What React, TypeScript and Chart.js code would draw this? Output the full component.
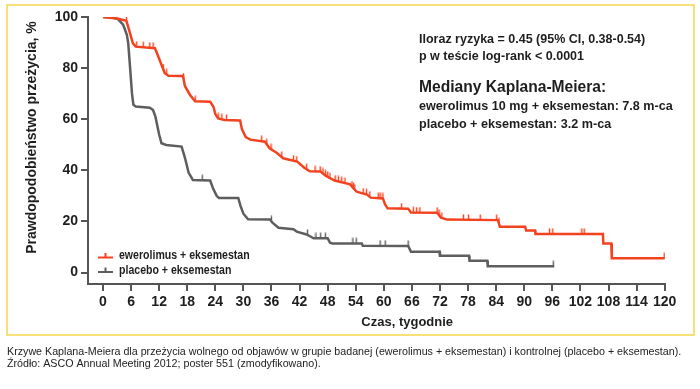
import React, { useEffect, useRef } from 'react';
import { Chart, registerables } from 'chart.js';

Chart.register(...registerables);

// ---------- data ----------
const X_TICKS = [0, 6, 12, 18, 24, 30, 36, 42, 48, 54, 60, 66, 72, 78, 84, 90, 96, 102, 108, 114, 120];
const Y_TICKS = [0, 20, 40, 60, 80, 100];

const EVE_WEEKS = [0, 3, 5, 5.4, 6.4, 7, 11.1, 11.5, 13.2, 14, 17.1, 17.5, 18.6, 19.7, 22.9, 23.6, 24, 24.6, 26, 29.3, 29.7, 30.5, 31.5, 34.6, 35.6, 37, 38.5, 41.5, 43, 44.2, 46.5, 47.5, 48.5, 49.5, 52.8, 53.5, 54.2, 56.4, 57.2, 59.8, 60.3, 60.8, 65.2, 65.8, 71.4, 72.2, 73.5, 84.4, 84.8, 90.2, 90.4, 92.3, 92.4, 106.8, 106.9, 108.6, 108.7, 120];
const EVE_PCT = [100, 99.4, 98.5, 96, 89.7, 88.4, 87.8, 86, 78, 77, 76.9, 73, 69.5, 67, 66.8, 64.9, 62, 60.3, 59.7, 59.5, 56, 53, 52, 51.2, 48.6, 47, 44.7, 43.4, 41, 39.6, 39.5, 38, 36.9, 36, 34.5, 33, 31.6, 30.5, 29.3, 29, 26.5, 25.1, 25, 23.5, 23.4, 21.5, 20.7, 20.5, 17.9, 17.9, 16.4, 16.4, 15.1, 15.1, 11.4, 11.4, 5.6, 5.6];

const PBO_WEEKS = [0, 2, 3.2, 4.3, 5.1, 5.4, 5.8, 6.2, 6.5, 7, 10, 10.7, 11.2, 12, 12.5, 13.5, 16.8, 17.5, 18.3, 18.8, 19.2, 22.9, 23.5, 24.3, 24.8, 28.9, 29.4, 30, 31, 35.7, 36.2, 37.5, 40.7, 41.4, 43.5, 44.6, 45, 48, 48.5, 49, 55.3, 55.5, 65.2, 65.8, 71.9, 72, 78.2, 78.3, 82.1, 82.2, 96.4];
const PBO_PCT = [100, 99.8, 99.2, 97, 93, 89.7, 80, 70, 65.6, 65, 64.5, 63.6, 61, 54, 50.6, 49.9, 49.3, 45, 39, 37.5, 36.2, 36, 33, 30, 29.2, 29.2, 26, 23, 20.8, 20.7, 19.5, 17.5, 16.9, 16, 14.9, 13.8, 13.4, 13.4, 11.7, 11.4, 11.4, 10.5, 10.4, 8.1, 8.1, 6.6, 6.6, 4.6, 4.6, 2.4, 2.4];

const EVE_CENSOR = [0, 5, 7.2, 8.6, 10, 10.7, 12.9, 13.6, 17.2, 19.7, 24.6, 25.4, 26.4, 33.9, 35, 35.9, 38.2, 40.7, 41.4, 43.5, 45.3, 46.4, 47, 47.5, 48, 48.5, 49.6, 50.3, 51, 51.7, 53.2, 53.5, 53.8, 55.6, 56.3, 57, 58.8, 59.2, 59.8, 63.8, 66.3, 67, 67.7, 71.4, 71.8, 72.4, 77, 78.1, 80.6, 84.1, 84.6, 95.4, 96.1, 102.3, 102.8, 119.9];
const PBO_CENSOR = [21.2, 36, 43.7, 45.5, 46.5, 47.5, 53.4, 54.1, 59.2, 60.3, 65.2, 72, 96.2];

const LEGEND_LABELS = ['ewerolimus + eksemestan', 'placebo + eksemestan'];
const STATS_LINES = ['Iloraz ryzyka = 0.45 (95% CI, 0.38-0.54)', 'p w teście log-rank < 0.0001'];
const MEDIAN_TITLE = 'Mediany Kaplana-Meiera:';
const MEDIAN_LINES = ['ewerolimus 10 mg + eksemestan: 7.8 m-ca', 'placebo + eksemestan: 3.2 m-ca'];
const Y_TITLE = 'Prawdopodobieństwo przeżycia, %';
const X_TITLE = 'Czas, tygodnie';
const CAPTION_LINES = [
  'Krzywe Kaplana-Meiera dla przeżycia wolnego od objawów w grupie badanej (ewerolimus + eksemestan) i kontrolnej (placebo + eksemestan).',
  'Źródło: ASCO Annual Meeting 2012; poster 551 (zmodyfikowano).',
];

const RED = '#f4421f';
const GRAY = '#5e5e5e';
const AXIS = '#555555';
const TEXT = '#1e1e1e';
const SANS = 'Arial, "Liberation Sans", sans-serif';

function valueAt(weeks: number[], pct: number[], t: number): number {
  for (let i = weeks.length - 1; i >= 0; i--) {
    if (weeks[i] <= t) {
      if (i === weeks.length - 1) return pct[i];
      const w0 = weeks[i], w1 = weeks[i + 1];
      if (w1 === w0) return pct[i + 1];
      const f = (t - w0) / (w1 - w0);
      return pct[i] + (pct[i + 1] - pct[i]) * f;
    }
  }
  return pct[0];
}

function tickImage(color: string): HTMLCanvasElement {
  const c = document.createElement('canvas');
  c.width = 3;
  c.height = 12;
  const g = c.getContext('2d')!;
  g.strokeStyle = color;
  g.lineWidth = 1.4;
  g.beginPath();
  g.moveTo(1.5, 0.5);
  g.lineTo(1.5, 6);
  g.stroke();
  return c;
}

export default function App() {
  const ref = useRef<HTMLCanvasElement | null>(null);

  useEffect(() => {
    document.body.style.margin = '0';
    const canvas = ref.current!;
    const redTick = tickImage(RED);
    const grayTick = tickImage(GRAY);

    const decor = {
      id: 'decor',
      afterDraw(chart: any) {
        const ctx = chart.ctx as CanvasRenderingContext2D;
        const xs = chart.scales.x;
        ctx.save();
        // frame
        ctx.strokeStyle = '#f6d64c';
        ctx.lineWidth = 1.5;
        ctx.strokeRect(7, 5, 687, 330);

        // y title
        ctx.save();
        ctx.translate(32, 137.5);
        ctx.rotate(-Math.PI / 2);
        ctx.fillStyle = TEXT;
        ctx.font = `bold 14px ${SANS}`;
        ctx.textAlign = 'center';
        ctx.textBaseline = 'middle';
        ctx.fillText(Y_TITLE, 0, 0);
        ctx.restore();

        // x title
        ctx.fillStyle = TEXT;
        ctx.font = `bold 13px ${SANS}`;
        ctx.textAlign = 'center';
        ctx.textBaseline = 'middle';
        ctx.fillText(X_TITLE, xs.getPixelForValue(65), 322);

        // stats text
        ctx.textAlign = 'left';
        ctx.font = `bold 12.5px ${SANS}`;
        ctx.fillText(STATS_LINES[0], 419, 40);
        ctx.fillText(STATS_LINES[1], 419, 57);
        ctx.font = `bold 15.6px ${SANS}`;
        ctx.fillText(MEDIAN_TITLE, 419, 88);
        ctx.font = `bold 12.6px ${SANS}`;
        ctx.fillText(MEDIAN_LINES[0], 419, 107);
        ctx.fillText(MEDIAN_LINES[1], 419, 125);

        // legend
        const colors = [RED, GRAY];
        LEGEND_LABELS.forEach((lab, i) => {
          const y = 256 + i * 14.5;
          ctx.strokeStyle = colors[i];
          ctx.lineWidth = 2;
          ctx.beginPath();
          ctx.moveTo(98, y + 1.5);
          ctx.lineTo(113, y + 1.5);
          ctx.moveTo(105.5, y + 1.5);
          ctx.lineTo(105.5, y - 3);
          ctx.stroke();
          ctx.save();
          ctx.translate(119, y);
          ctx.scale(0.88, 1);
          ctx.fillStyle = TEXT;
          ctx.font = `bold 12px ${SANS}`;
          ctx.fillText(lab, 0, 0);
          ctx.restore();
        });

        // caption
        ctx.fillStyle = '#222';
        ctx.font = `10.7px ${SANS}`;
        ctx.fillText(CAPTION_LINES[0], 7, 352);
        ctx.fillText(CAPTION_LINES[1], 7, 364);
        ctx.restore();
      },
    };

    const chart = new Chart(canvas, {
      type: 'line',
      data: {
        datasets: [
          {
            label: LEGEND_LABELS[0],
            data: EVE_WEEKS.map((w, i) => ({ x: w, y: EVE_PCT[i] })),
            borderColor: RED,
            borderWidth: 2.5,
            pointRadius: 0,
            tension: 0,
          },
          {
            label: LEGEND_LABELS[1],
            data: PBO_WEEKS.map((w, i) => ({ x: w, y: PBO_PCT[i] })),
            borderColor: GRAY,
            borderWidth: 2.5,
            pointRadius: 0,
            tension: 0,
          },
          {
            label: 'censor-eve',
            data: EVE_CENSOR.map((w) => ({ x: w, y: valueAt(EVE_WEEKS, EVE_PCT, w) })),
            showLine: false,
            pointStyle: redTick as any,
            pointRadius: 3,
          },
          {
            label: 'censor-pbo',
            data: PBO_CENSOR.map((w) => ({ x: w, y: valueAt(PBO_WEEKS, PBO_PCT, w) })),
            showLine: false,
            pointStyle: grayTick as any,
            pointRadius: 3,
          },
        ],
      },
      options: {
        responsive: false,
        animation: false,
        devicePixelRatio: 1,
        layout: { padding: { left: 48, right: 35, top: 17, bottom: 67 } },
        plugins: { legend: { display: false }, tooltip: { enabled: false } },
        scales: {
          x: {
            type: 'linear',
            min: -3.2,
            max: 120.07,
            afterBuildTicks: (s: any) => {
              s.ticks = X_TICKS.map((v) => ({ value: v }));
            },
            afterFit: (s: any) => {
              s.height = 38;
            },
            ticks: {
              font: { family: SANS, size: 14, weight: 'bold' },
              color: TEXT,
              padding: 3,
              maxRotation: 0,
              autoSkip: false,
            },
            grid: { display: true, drawOnChartArea: false, drawTicks: true, tickLength: 7, color: AXIS, lineWidth: 2 },
            border: { display: true, color: AXIS, width: 2 },
          },
          y: {
            min: -4.5,
            max: 100,
            afterBuildTicks: (s: any) => {
              s.ticks = Y_TICKS.map((v) => ({ value: v }));
            },
            afterFit: (s: any) => {
              s.width = 40;
            },
            ticks: {
              font: { family: SANS, size: 14, weight: 'bold' },
              color: TEXT,
              padding: 3,
            },
            grid: { display: true, drawOnChartArea: false, drawTicks: true, tickLength: 7, color: AXIS, lineWidth: 2 },
            border: { display: true, color: AXIS, width: 2 },
          },
        },
      },
      plugins: [decor],
    } as any);

    return () => chart.destroy();
  }, []);

  return (
    <div style={{ width: 700, height: 389, background: '#fff' }}>
      <canvas ref={ref} width={700} height={389} style={{ display: 'block', width: 700, height: 389 }} />
    </div>
  );
}
